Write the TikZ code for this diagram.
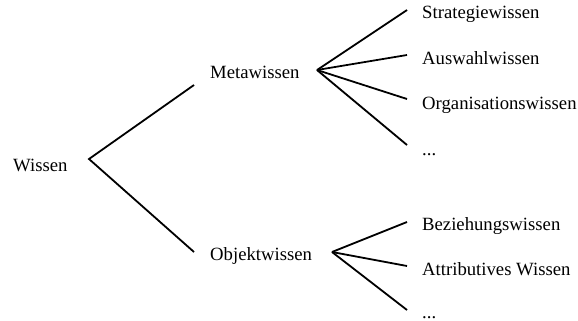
\documentclass[tikz,border=0pt]{standalone}
\usepackage{fontspec}
\setmainfont{Liberation Serif}
\begin{document}
\begin{tikzpicture}[x=1pt,y=-1pt,
  label/.style={anchor=base west,inner sep=0pt,font=\fontsize{18.7}{22}\selectfont},
  branch/.style={line width=1.8pt}]
\useasboundingbox (0,0) rectangle (578,321);
% text nodes, placed by baseline
\node[label] (wissen) at (13,171) {Wissen};
\node[label] (meta) at (210,78) {Metawissen};
\node[label] (objekt) at (210,260) {Objektwissen};
\node[label] (strat) at (422,18.5) {Strategiewissen};
\node[label] (ausw) at (422,64) {Auswahlwissen};
\node[label] (orga) at (422,109.5) {Organisationswissen};
\node[label] (mdots) at (422,155) {...};
\node[label] (bez) at (422,230) {Beziehungswissen};
\node[label] (attr) at (422,275) {Attributives Wissen};
\node[label] (odots) at (422,318.5) {...};
% fan vertices and branch ends
\coordinate (w0) at (89,159);
\coordinate (w1) at (194,85);
\coordinate (w2) at (194,252);
\coordinate (m0) at (317,70);
\coordinate (m1) at (407,10);
\coordinate (m2) at (407,55);
\coordinate (m3) at (407,99);
\coordinate (m4) at (407,145);
\coordinate (o0) at (332,252);
\coordinate (o1) at (407,222);
\coordinate (o2) at (407,266);
\coordinate (o3) at (407,310);
% branches
\draw[branch] (w1) -- (w0) -- (w2);
\foreach \e in {m1,m2,m3,m4} \draw[branch] (m0) -- (\e);
\foreach \e in {o1,o2,o3} \draw[branch] (o0) -- (\e);
\end{tikzpicture}
\end{document}
